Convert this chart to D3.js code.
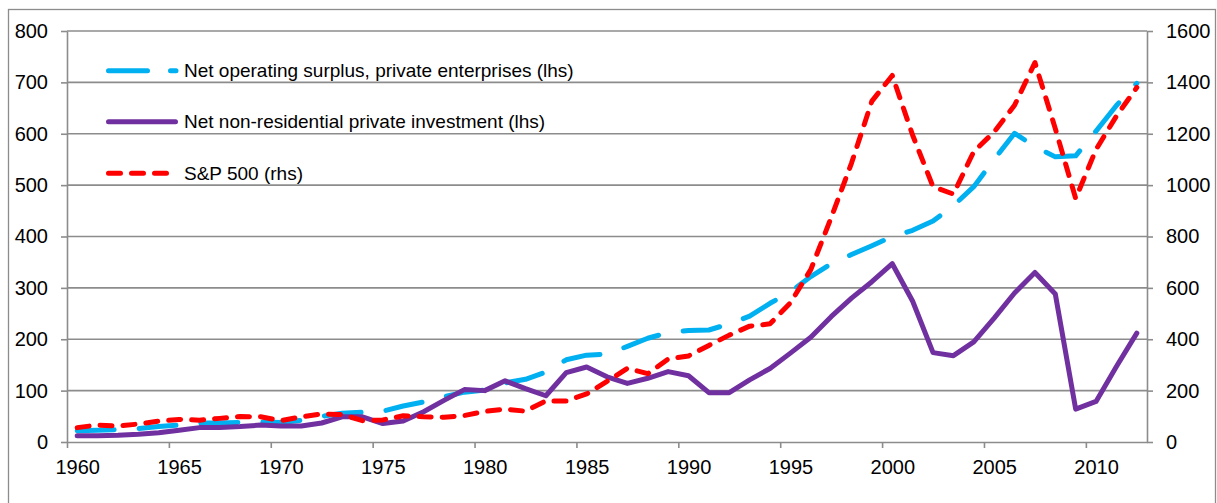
<!DOCTYPE html>
<html><head><meta charset="utf-8">
<script src="https://cdn.jsdelivr.net/npm/d3@7"></script>
<style>
html,body{margin:0;padding:0;background:#fff;}
svg{display:block;font-family:"Liberation Sans",Arial,sans-serif;}
</style></head>
<body>
<svg id="chart" width="1217" height="503"></svg>
<script>
const years = d3.range(1960, 2013);
const surplus = [22,23,24,26,30,33,37,37,38,39,38,42,50,56,58,60,70,78,88,97,
  101,115,122,136,160,169,171,186,202,213,217,218,230,245,270,292,322,347,365,382,
  400,412,430,460,497,550,601,575,555,557,605,655,698];
const investment = [12,12,13,15,18,23,28,28,30,33,31,31,37,49,49,36,41,59,81,102,
  100,119,104,90,135,146,127,114,124,137,129,96,96,121,143,173,204,244,280,312,
  347,274,174,168,195,241,290,330,288,64,79,147,212];
const sp500 = [56,66,62,70,81,88,85,92,99,98,83,98,109,107,83,86,102,98,96,103,
  119,128,120,160,160,187,236,287,266,323,335,376,416,451,460,542,671,873,1086,1327,
  1427,1194,994,965,1131,1207,1311,1477,1220,948,1139,1269,1380];
const leftTicks = d3.range(0, 801, 100);
const rightTicks = d3.range(0, 1601, 200);
const xTickYears = d3.range(1960, 2011, 5);
const seriesNames = ["Net operating surplus, private enterprises (lhs)",
  "Net non-residential private investment (lhs)", "S&P 500 (rhs)"];
const seriesColors = ["#00B0F0", "#7030A0", "#FF0000"];

const svg = d3.select("#chart");
const L = 67, R = 1147, T = 31, B = 442;
const gridColor = "#8c8c8c";

svg.append("rect").attr("x", 8.5).attr("y", 9.5).attr("width", 1207).attr("height", 520)
  .attr("fill", "none").attr("stroke", "#8c8c8c").attr("stroke-width", 1.3);

const x = d3.scaleLinear().domain([1960, 2013]).range([L, R]);
const yL = d3.scaleLinear().domain([0, 800]).range([B, T]);
const yR = d3.scaleLinear().domain([0, 1600]).range([B, T]);

// gridlines
svg.append("g").selectAll("line").data(leftTicks.filter(d => d > 0)).join("line")
  .attr("x1", L).attr("x2", R).attr("y1", d => yL(d)).attr("y2", d => yL(d))
  .attr("stroke", gridColor).attr("stroke-width", 1.6);

function styleAxis(g) {
  g.selectAll("path,line").attr("stroke", gridColor).attr("stroke-width", 1.6);
  g.selectAll("text").attr("fill", "#000").attr("font-size", "20px")
    .attr("font-family", "'Liberation Sans',Arial,sans-serif");
}

const fmt = d3.format("d");
const gl = svg.append("g").attr("transform", `translate(${L},0)`)
  .call(d3.axisLeft(yL).tickValues(leftTicks).tickSize(6).tickSizeOuter(0).tickPadding(13).tickFormat(fmt));
styleAxis(gl);
const gr = svg.append("g").attr("transform", `translate(${R},0)`)
  .call(d3.axisRight(yR).tickValues(rightTicks).tickSize(6).tickSizeOuter(0).tickPadding(13).tickFormat(fmt));
styleAxis(gr);
const gb = svg.append("g").attr("transform", `translate(0,${B})`)
  .call(d3.axisBottom(x).tickValues(xTickYears).tickSize(6).tickSizeOuter(0).tickPadding(12)
    .tickFormat(fmt));
styleAxis(gb);
gb.selectAll(".tick text").attr("x", d => x(d + 0.5) - x(d));

const lineL = d3.line().x((d, i) => x(years[i] + 0.5)).y(d => yL(d));
const lineR = d3.line().x((d, i) => x(years[i] + 0.5)).y(d => yR(d));

const dashes = ["37,25", null, "12,11"];
svg.append("path").datum(surplus).attr("d", lineL).attr("fill", "none")
  .attr("stroke", seriesColors[0]).attr("stroke-width", 5).attr("stroke-dasharray", dashes[0])
  .attr("stroke-linecap", "round").attr("stroke-linejoin", "round");
svg.append("path").datum(investment).attr("d", lineL).attr("fill", "none")
  .attr("stroke", seriesColors[1]).attr("stroke-width", 5)
  .attr("stroke-linecap", "round").attr("stroke-linejoin", "round");
svg.append("path").datum(sp500).attr("d", lineR).attr("fill", "none")
  .attr("stroke", seriesColors[2]).attr("stroke-width", 5).attr("stroke-dasharray", dashes[2])
  .attr("stroke-linecap", "round").attr("stroke-linejoin", "round");

// legend
const legY = [70.7, 121.7, 173.3];
const legX2 = [176, 175.5, 166.5];
const legDash = ["39,23", null, "12,11"];
const lg = svg.append("g");
seriesNames.forEach((name, i) => {
  lg.append("line").attr("x1", 108.5).attr("x2", legX2[i]).attr("y1", legY[i]).attr("y2", legY[i])
    .attr("stroke", seriesColors[i]).attr("stroke-width", 5).attr("stroke-linecap", "round")
    .attr("stroke-dasharray", legDash[i]);
  lg.append("text").attr("x", 184).attr("y", legY[i]).attr("dy", "0.35em")
    .attr("font-size", "19px").attr("fill", "#000").text(name);
});
</script>
</body></html>
